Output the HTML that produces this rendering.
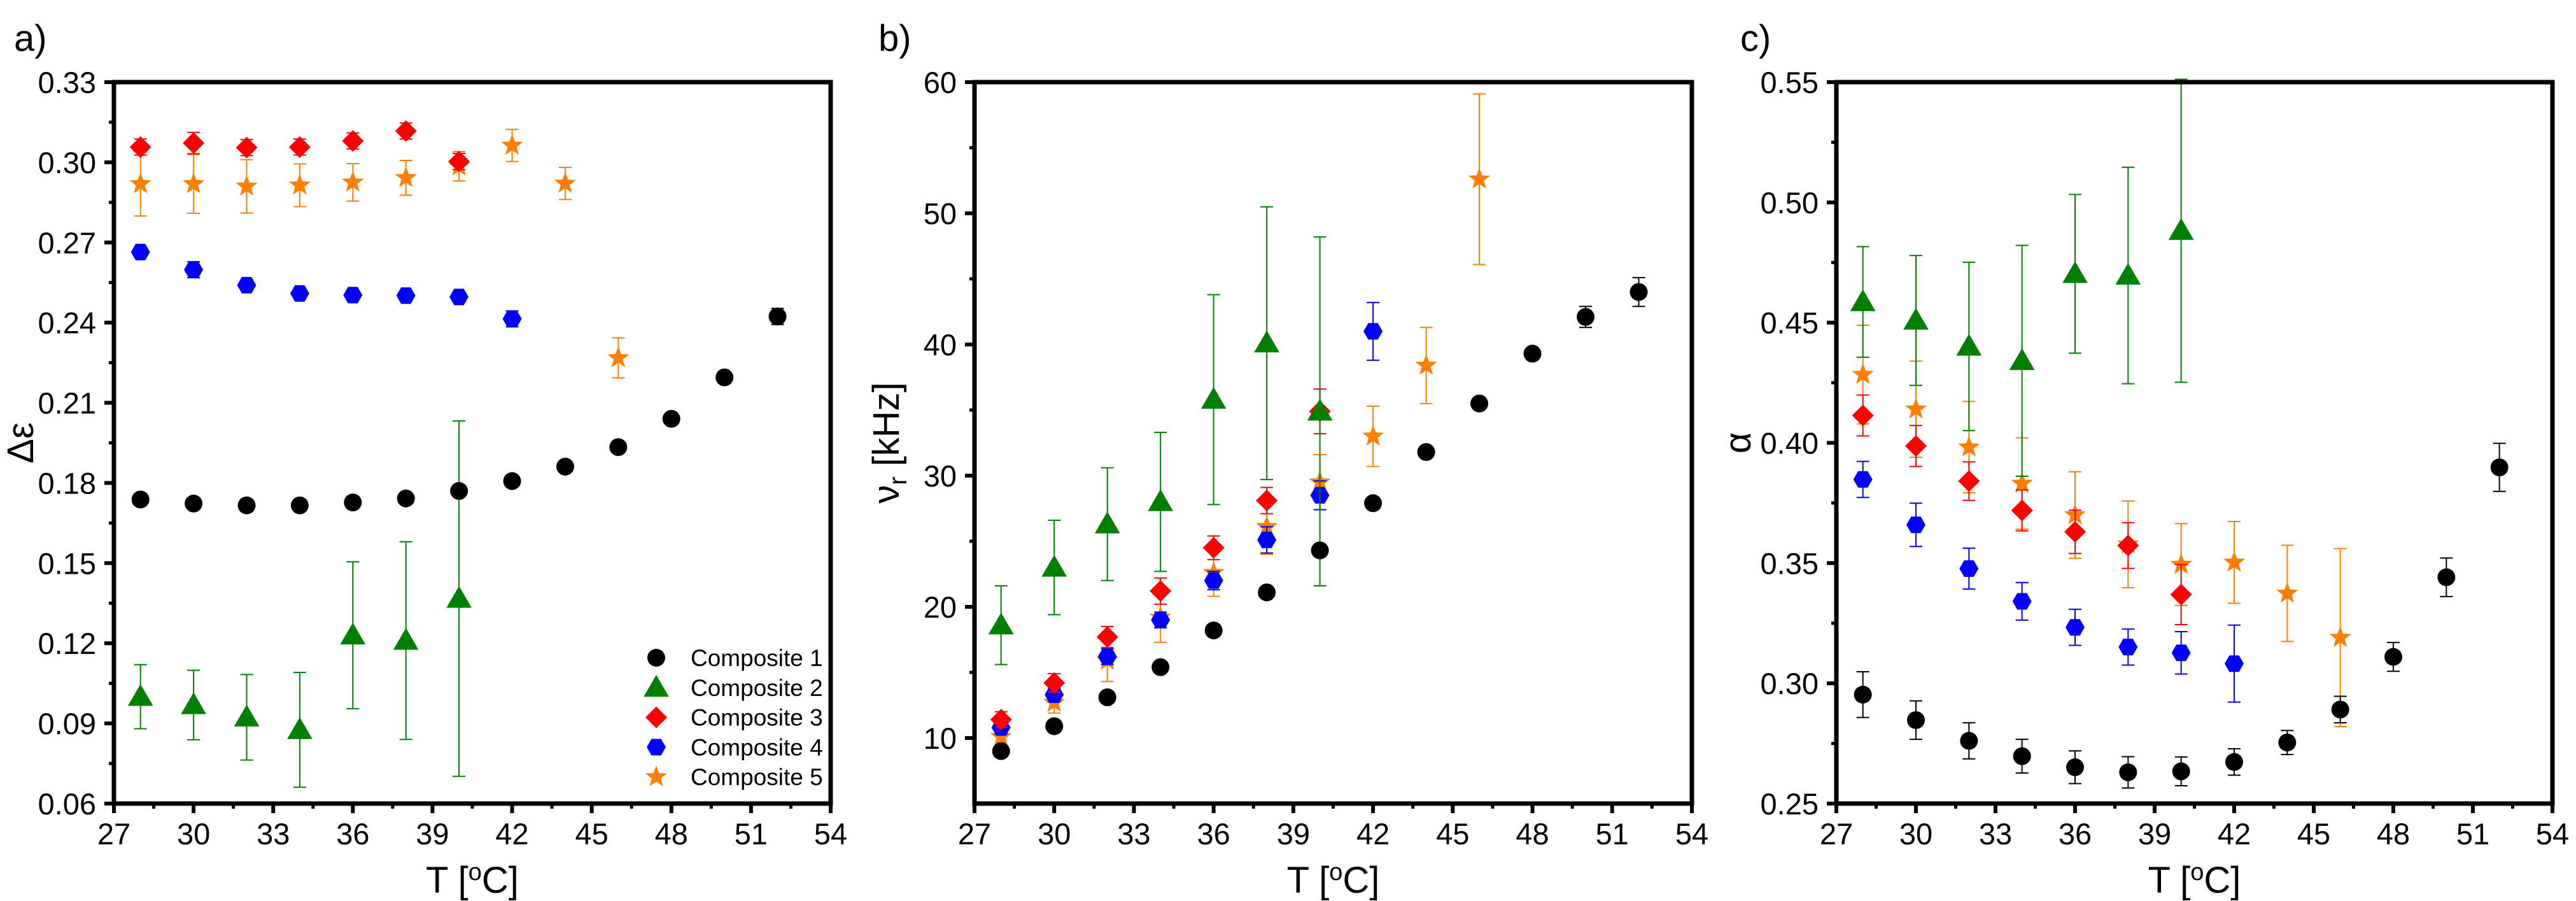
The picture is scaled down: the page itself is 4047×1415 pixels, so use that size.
<!DOCTYPE html>
<html><head><meta charset="utf-8"><style>
html,body{margin:0;padding:0;background:#fff}
svg{display:block;font-family:"Liberation Sans",Arial,sans-serif}
</style></head><body>
<svg id="chart" width="4047" height="1415" viewBox="0 0 4047 1415" xmlns="http://www.w3.org/2000/svg"></svg>
<script>
const temps = [28,30,32,34,36,38,40,42,44,46,48,50,52];
const seriesNames = ["Composite 1","Composite 2","Composite 3","Composite 4","Composite 5"];
const seriesColors = ["#000000","#008000","#ff0000","#0000ff","#ff8000"];
const seriesShapes = ["circle","triangle","diamond","hexagon","star"];
const xTicks = [27,30,33,36,39,42,45,48,51,54];

// Panel a: delta epsilon
const aC1 = [0.1738,0.1723,0.1716,0.1716,0.1727,0.1742,0.177,0.1807,0.1861,0.1934,0.204,0.2195,0.2423];
const aC1e = [0.002,0.002,0.002,0.002,0.002,0.002,0.002,0.002,0.002,0.002,0.002,0.002,0.003];
const aC2 = [0.100,0.0969,0.0923,0.0876,0.123,0.121,0.1367];
const aC2e = [0.012,0.013,0.016,0.0215,0.0275,0.037,0.0665];
const aC3 = [0.3057,0.3072,0.3055,0.3057,0.308,0.3117,0.3003];
const aC3e = [0.003,0.004,0.003,0.003,0.003,0.003,0.003];
const aC4 = [0.2664,0.2598,0.254,0.2509,0.2503,0.2501,0.2496,0.2414];
const aC4e = [0.002,0.003,0.002,0.002,0.002,0.002,0.002,0.003];
const aC5 = [0.2919,0.2919,0.291,0.2914,0.2925,0.2942,0.2985,0.3063,0.2921,0.2268];
const aC5e = [0.012,0.011,0.010,0.008,0.007,0.0065,0.0055,0.006,0.006,0.0075];
const aYTicks = [0.06,0.09,0.12,0.15,0.18,0.21,0.24,0.27,0.30,0.33];

// Panel b: relaxation frequency
const bC1 = [9.0,10.9,13.1,15.4,18.2,21.1,24.3,27.9,31.8,35.5,39.3,42.1,44.0];
const bC1e = [0.4,0.4,0.4,0.4,0.4,0.4,0.4,0.4,0.4,0.4,0.4,0.8,1.1];
const bC2 = [18.6,23.0,26.3,28.0,35.8,40.1,34.9];
const bC2e = [3.0,3.6,4.3,5.3,8.0,10.4,13.3];
const bC3 = [11.4,14.2,17.7,21.2,24.5,28.1,34.9];
const bC3e = [0.6,0.7,0.8,1.0,0.9,1.0,1.7];
const bC4 = [10.8,13.3,16.2,19.0,22.0,25.1,28.5,41.0];
const bC4e = [0.5,0.5,0.6,0.6,0.7,1.0,1.1,2.2];
const bC5 = [10.1,12.7,15.9,19.2,22.6,26.1,29.5,33.0,38.4,52.6];
const bC5e = [0.7,0.8,1.6,1.9,1.8,2.1,2.1,2.3,2.9,6.5];
const bYTicks = [10,20,30,40,50,60];

// Panel c: alpha
const cC1 = [0.2953,0.2847,0.2761,0.2697,0.2651,0.2630,0.2634,0.2673,0.2754,0.2891,0.311,0.3441,0.3898];
const cC1e = [0.0095,0.008,0.0075,0.007,0.0068,0.0065,0.006,0.0055,0.005,0.0055,0.006,0.008,0.010];
const cC2 = [0.4586,0.4509,0.4401,0.4341,0.4703,0.4696,0.4882];
const cC2e = [0.023,0.027,0.035,0.048,0.033,0.045,0.063];
const cC3 = [0.4114,0.3987,0.3841,0.3719,0.363,0.3573,0.3369];
const cC3e = [0.0085,0.0085,0.008,0.0085,0.009,0.0095,0.0125];
const cC4 = [0.3848,0.3659,0.3477,0.3341,0.3233,0.3151,0.3127,0.3082];
const cC4e = [0.0075,0.009,0.0085,0.0078,0.0075,0.0075,0.0088,0.016];
const cC5 = [0.4284,0.414,0.3982,0.3831,0.37,0.3578,0.3494,0.3503,0.3374,0.319];
const cC5e = [0.0205,0.02,0.019,0.019,0.018,0.018,0.017,0.017,0.020,0.037];
const cYTicks = [0.25,0.30,0.35,0.40,0.45,0.50,0.55];

const NS = "http://www.w3.org/2000/svg";
const svg = document.getElementById("chart");
function mk(tag, attrs, parent){
  const e = document.createElementNS(NS, tag);
  for (const k in attrs) e.setAttribute(k, attrs[k]);
  (parent||svg).appendChild(e);
  return e;
}
const TOP=129, BOT=1262;

function markerShape(shape, cx, cy, color, g){
  let el;
  if (shape==="circle"){
    el = mk("circle",{cx:cx,cy:cy,r:14,fill:color},g);
  } else if (shape==="triangle"){
    const s=18;
    el = mk("polygon",{points:`${cx},${cy-s*1.1} ${cx+s*1.1},${cy+s*0.8} ${cx-s*1.1},${cy+s*0.8}`,fill:color},g);
  } else if (shape==="diamond"){
    const s=17;
    el = mk("polygon",{points:`${cx},${cy-s} ${cx+s},${cy} ${cx},${cy+s} ${cx-s},${cy}`,fill:color},g);
  } else if (shape==="hexagon"){
    const r=15; let p=[];
    for(let i=0;i<6;i++){const a=Math.PI/3*i; p.push((cx+r*Math.cos(a)).toFixed(1)+","+(cy+r*Math.sin(a)).toFixed(1));}
    el = mk("polygon",{points:p.join(" "),fill:color},g);
  } else {
    const R=18,r=7.5; let p=[];
    for(let i=0;i<10;i++){const a=-Math.PI/2+Math.PI/5*i; const rr=i%2?r:R; p.push((cx+rr*Math.cos(a)).toFixed(1)+","+(cy+rr*Math.sin(a)).toFixed(1));}
    el = mk("polygon",{points:p.join(" "),fill:color},g);
  }
  return el;
}

function panel(opts){
  const {id,left,right,ymin,ymax,yTicks,yFmt,values,errors,label,labelX,yTitleX,yTitle} = opts;
  const xS = v => left + (v-27)/(54-27)*(right-left);
  const yS = v => BOT - (v-ymin)/(ymax-ymin)*(BOT-TOP);
  const g = mk("g",{});
  
  
  const pl = mk("text",{x:labelX,y:80,"font-size":58,fill:"#000"},g);
  pl.textContent = label;
  
  
  const xt = mk("g",{},g);
  
  
  xTicks.forEach((t,i)=>{
    const x=xS(t);
    mk("line",{x1:x,x2:x,y1:BOT,y2:BOT+15,stroke:"#000","stroke-width":6},xt);
    const tl = mk("text",{x:x,y:1326,"font-size":47,"text-anchor":"middle",fill:"#000"},xt);
    tl.textContent = t;
    
    
    if (i<xTicks.length-1){
      const xm=xS(t+1.5);
      mk("line",{x1:xm,x2:xm,y1:BOT,y2:BOT+8,stroke:"#000","stroke-width":5},xt);
    }
  });
  const xtitle = mk("text",{x:(left+right)/2,y:1402,"font-size":58,"text-anchor":"middle",fill:"#000"},g);
  xtitle.innerHTML = 'T [<tspan dy="-20" font-size="38">o</tspan><tspan dy="20">C]</tspan>';
  
  
  const yt = mk("g",{},g);
  
  
  yTicks.forEach((t,i)=>{
    const y=yS(t);
    mk("line",{x1:left-15,x2:left,y1:y,y2:y,stroke:"#000","stroke-width":6},yt);
    const tl = mk("text",{x:left-28,y:y+17,"font-size":47,"text-anchor":"end",fill:"#000"},yt);
    tl.textContent = yFmt(t);
    
    
  });
  const step = yTicks[1]-yTicks[0];
  for (let v=ymin+step/2; v<ymax; v+=step/2){
    if (yTicks.some(t=>Math.abs(t-v)<1e-6)) continue;
    const y=yS(v);
    mk("line",{x1:left-8,x2:left,y1:y,y2:y,stroke:"#000","stroke-width":5},yt);
  }
  const ytitle = mk("text",{x:yTitleX,y:(TOP+BOT)/2,"font-size":58,"text-anchor":"middle",fill:"#000",transform:`rotate(-90 ${yTitleX} ${(TOP+BOT)/2})`},g);
  ytitle.innerHTML = yTitle;
  
  
  const order=[4,3,2,1,0];
  order.forEach(s=>{
    const sg = mk("g",{},g);
    
    
    values[s].forEach((v,i)=>{
      const x=xS(temps[i]), e=errors[s][i];
      const y1=yS(v+e), y2=yS(v-e);
      const eb = mk("path",{d:`M${x},${y1}V${y2}M${x-10},${y1}H${x+10}M${x-10},${y2}H${x+10}`,stroke:seriesColors[s],"stroke-width":2,fill:"none"},sg);
      
      
    });
    values[s].forEach((v,i)=>{
      const m = markerShape(seriesShapes[s], xS(temps[i]), yS(v), seriesColors[s], sg);
      
      
    });
  });
  const fr = mk("rect",{x:left,y:TOP,width:right-left,height:BOT-TOP,fill:"none",stroke:"#000","stroke-width":7},g);
  
  
  return g;
}

panel({id:"a",left:179,right:1305,ymin:0.06,ymax:0.33,yTicks:aYTicks,yFmt:v=>v.toFixed(2),
  values:[aC1,aC2,aC3,aC4,aC5],errors:[aC1e,aC2e,aC3e,aC4e,aC5e],label:"a)",labelX:22,yTitleX:52,
  yTitle:"Δε"});
panel({id:"b",left:1531,right:2658,ymin:5,ymax:60,yTicks:bYTicks,yFmt:v=>String(v),
  values:[bC1,bC2,bC3,bC4,bC5],errors:[bC1e,bC2e,bC3e,bC4e,bC5e],label:"b)",labelX:1380,yTitleX:1412,
  yTitle:'ν<tspan font-size="40" dy="12">r</tspan><tspan dy="-12"> [kHz]</tspan>'});
panel({id:"c",left:2885,right:4010,ymin:0.25,ymax:0.55,yTicks:cYTicks,yFmt:v=>v.toFixed(2),
  values:[cC1,cC2,cC3,cC4,cC5],errors:[cC1e,cC2e,cC3e,cC4e,cC5e],label:"c)",labelX:2734,yTitleX:2750,
  yTitle:"α"});

const lg = mk("g",{});


seriesNames.forEach((n,i)=>{
  const y = 1033 + i*46.8;
  const eg = mk("g",{},lg);
  
  
  markerShape(seriesShapes[i], 1031, y, seriesColors[i], eg);
  const t = mk("text",{x:1085,y:y+13,"font-size":37,fill:"#000"},eg);
  t.textContent = n;
});
</script>
</body></html>
